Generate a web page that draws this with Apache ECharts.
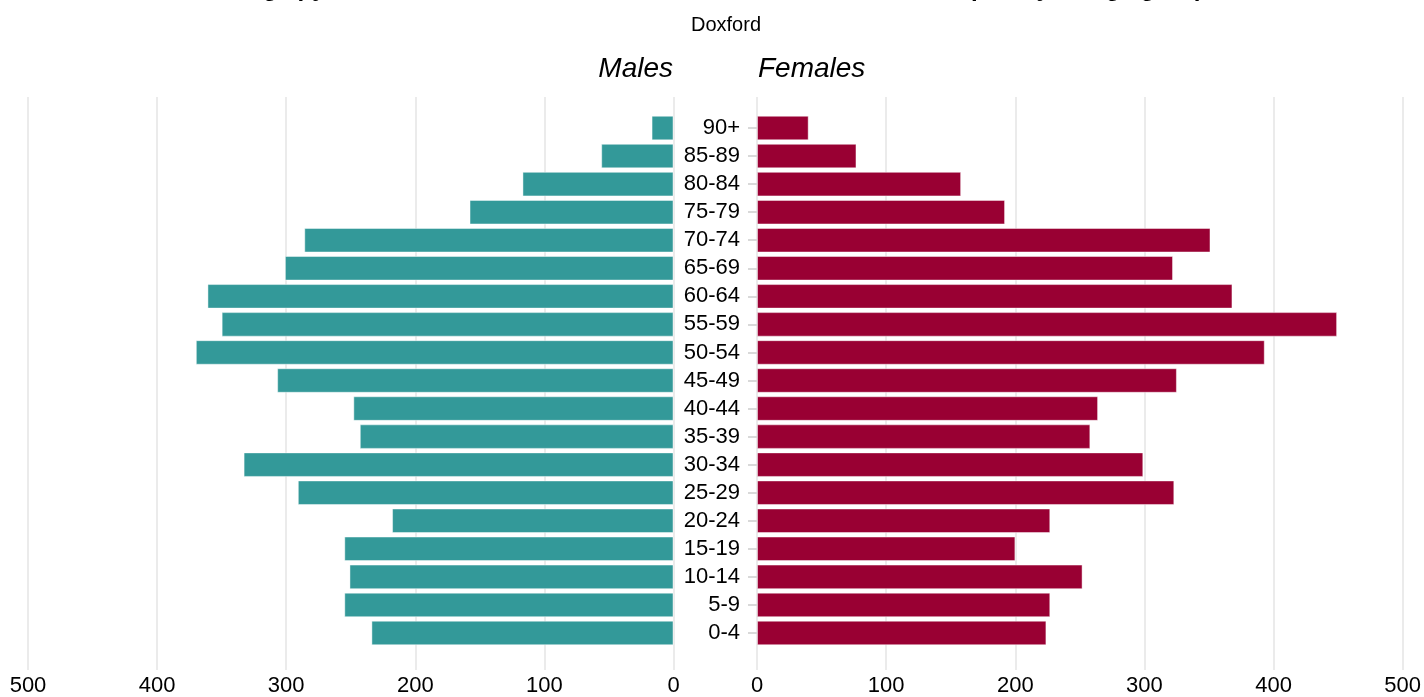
<!DOCTYPE html>
<html>
<head>
<meta charset="utf-8">
<script src="https://cdn.jsdelivr.net/npm/echarts@6/dist/echarts.min.js"></script>
<style>
html,body{margin:0;padding:0;background:#fff;}
#chart{width:1424px;height:697px;}
</style>
</head>
<body>
<div id="chart"></div>
<script>
// Data (bottom to top)
const ageGroups = ["0-4","5-9","10-14","15-19","20-24","25-29","30-34","35-39","40-44","45-49","50-54","55-59","60-64","65-69","70-74","75-79","80-84","85-89","90+"];
const males   = [234,255,251,255,218,291,333,243,248,307,370,350,361,301,286,158,117,56,17];
const females = [224,227,252,200,227,323,299,258,264,325,393,449,368,322,351,192,158,77,40];
const xTicks = [0,100,200,300,400,500];
const titleText = "Age pyramid of the total resident count in the ward at mid-2021 per 5-year age group";
const subtitleText = "Doxford";
const leftLabel = "Males";
const rightLabel = "Females";

const FONT = "'Liberation Sans', Arial, Helvetica, sans-serif";
const chart = echarts.init(document.getElementById('chart'), null, {renderer: 'canvas'});

const xMax = xTicks[xTicks.length - 1];
const gridLineStyle = {color: '#e6e6e6', width: 1.6};

const option = {
  animation: false,
  backgroundColor: '#ffffff',
  graphic: [
    {type: 'text', silent: true, x: 0, y: 0,
     style: {x: 727, y: -11, text: titleText, font: "bold 24px " + FONT, fill: '#000', align: 'center', verticalAlign: 'middle'}},
    {type: 'text', silent: true, x: 0, y: 0,
     style: {x: 726, y: 25, text: subtitleText, font: "20px " + FONT, fill: '#000', align: 'center', verticalAlign: 'middle'}},
    {type: 'text', silent: true, x: 0, y: 0,
     style: {x: 673, y: 69, text: leftLabel, font: "italic 28px " + FONT, fill: '#000', align: 'right', verticalAlign: 'middle'}},
    {type: 'text', silent: true, x: 0, y: 0,
     style: {x: 758, y: 69, text: rightLabel, font: "italic 28px " + FONT, fill: '#000', align: 'left', verticalAlign: 'middle'}}
  ],
  grid: [
    {left: 28, right: 750.5, top: 114, bottom: 50},
    {left: 757, right: 21, top: 114, bottom: 50},
    {left: 28, right: 750.5, top: 97, bottom: 24},
    {left: 757, right: 21, top: 97, bottom: 24}
  ],
  xAxis: [
    {gridIndex: 0, type: 'value', inverse: true, min: 0, max: xMax, show: false},
    {gridIndex: 1, type: 'value', min: 0, max: xMax, show: false},
    {gridIndex: 2, type: 'value', inverse: true, min: 0, max: xMax, interval: 100,
     axisLine: {show: false}, axisTick: {show: false},
     axisLabel: {fontSize: 22, fontFamily: FONT, color: '#000', margin: 5},
     splitLine: {show: true, lineStyle: gridLineStyle}},
    {gridIndex: 3, type: 'value', min: 0, max: xMax, interval: 100,
     axisLine: {show: false}, axisTick: {show: false},
     axisLabel: {fontSize: 22, fontFamily: FONT, color: '#000', margin: 5},
     splitLine: {show: true, lineStyle: gridLineStyle}}
  ],
  yAxis: [
    {gridIndex: 0, type: 'category', data: ageGroups, show: false},
    {gridIndex: 1, type: 'category', data: ageGroups, position: 'left',
     axisLine: {show: true, onZero: false, lineStyle: {color: 'rgba(255,255,255,0)', width: 1}},
     axisTick: {show: true, inside: false, interval: 0, alignWithLabel: true, length: 9, lineStyle: {color: '#d9d9d9', width: 2}},
     axisLabel: {interval: 0, fontSize: 22, fontFamily: FONT, color: '#000', margin: 17, align: 'right'},
     splitLine: {show: false}},
    {gridIndex: 2, type: 'value', show: false},
    {gridIndex: 3, type: 'value', show: false}
  ],
  series: [
    {name: leftLabel, type: 'bar', xAxisIndex: 0, yAxisIndex: 0, data: males,
     barCategoryGap: '12.5%',
     itemStyle: {color: '#339999', borderColor: 'rgba(255,255,255,0.45)', borderWidth: 1}},
    {name: rightLabel, type: 'bar', xAxisIndex: 1, yAxisIndex: 1, data: females,
     barCategoryGap: '12.5%',
     itemStyle: {color: '#990033', borderColor: 'rgba(255,255,255,0.45)', borderWidth: 1}}
  ]
};
chart.setOption(option);
</script>
</body>
</html>
